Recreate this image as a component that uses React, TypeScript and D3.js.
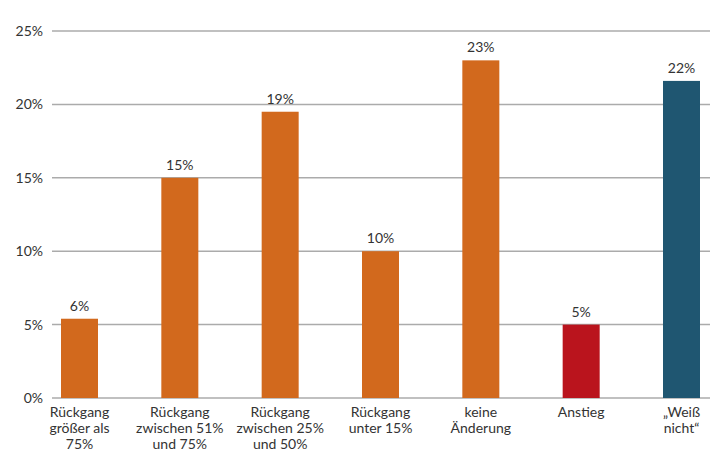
import React from "react";
import * as d3 from "d3";

const categories: string[][] = [
  ["Rückgang", "größer als", "75%"],
  ["Rückgang", "zwischen 51%", "und 75%"],
  ["Rückgang", "zwischen 25%", "und 50%"],
  ["Rückgang", "unter 15%"],
  ["keine", "Änderung"],
  ["Anstieg"],
  ["„Weiß", "nicht“"],
];
const values = [5.4, 15, 19.5, 10, 23, 5, 21.6];
const valueLabels = ["6%", "15%", "19%", "10%", "23%", "5%", "22%"];
const barColors = ["#D2691D", "#D2691D", "#D2691D", "#D2691D", "#D2691D", "#BA141D", "#1F5671"];
const yTicks = [0, 5, 10, 15, 20, 25];

const W = 715;
const H = 452;

export default function App() {
  const y = d3.scaleLinear().domain([0, 25]).range([398, 31]);
  const x = d3
    .scalePoint<number>()
    .domain(d3.range(categories.length))
    .range([79.5, 681.5]);
  const bw = 37;
  const font = "Lato, 'Noto Sans', sans-serif";
  return (
    <svg
      width={W}
      height={H}
      style={{ position: "absolute", left: 0, top: 0, background: "#fff" }}
      fontFamily={font}
    >
      {yTicks.map((t) => (
        <g key={t}>
          <line x1={52} x2={710} y1={y(t)} y2={y(t)} stroke="#ababab" strokeWidth={1.5} />
          <text
            x={43}
            y={y(t)}
            dy="0.35em"
            textAnchor="end"
            fontSize={14}
            fill="#333"
          >
            {t}%
          </text>
        </g>
      ))}
      {values.map((v, i) => (
        <g key={i}>
          <rect
            x={(x(i) as number) - bw / 2}
            y={y(v)}
            width={bw}
            height={y(0) - y(v)}
            fill={barColors[i]}
          />
          <text
            x={x(i) as number}
            y={y(v) - 8}
            textAnchor="middle"
            fontSize={14}
            fill="#333"
          >
            {valueLabels[i]}
          </text>
          {categories[i].map((line, j) => (
            <text
              key={j}
              x={x(i) as number}
              y={417 + j * 16}
              textAnchor="middle"
              fontSize={14}
              fill="#333"
            >
              {line}
            </text>
          ))}
        </g>
      ))}
    </svg>
  );
}
